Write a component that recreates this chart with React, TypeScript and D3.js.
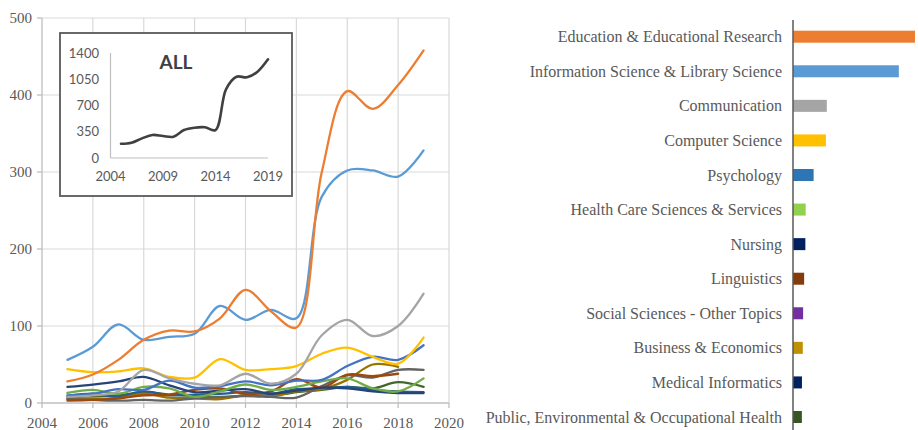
import * as d3 from "d3";
import { useEffect, useRef } from "react";

// years on the x axis of the main chart
const years = [2005, 2006, 2007, 2008, 2009, 2010, 2011, 2012, 2013, 2014, 2015, 2016, 2017, 2018, 2019];

// ALL (inset)
const allValues = [190, 204, 262, 307, 293, 284, 373, 404, 409, 373, 916, 1084, 1076, 1151, 1316];

const categories = [
  "Education & Educational Research",
  "Information Science & Library Science",
  "Communication",
  "Computer Science",
  "Psychology",
  "Health Care Sciences & Services",
  "Nursing",
  "Linguistics",
  "Social Sciences - Other Topics",
  "Business & Economics",
  "Medical Informatics",
  "Public, Environmental & Occupational Health",
];

const lineColors = [
  "#ED7D31", "#5B9BD5", "#A5A5A5", "#FFC000", "#4472C4", "#70AD47",
  "#264478", "#9E480E", "#636363", "#997300", "#255E91", "#43682B",
];
const barColors = [
  "#ED7D31", "#5B9BD5", "#A5A5A5", "#FFC000", "#2E75B6", "#92D050",
  "#002060", "#843C0C", "#7030A0", "#BF9000", "#002060", "#375623",
];

// per-category yearly counts, 2005..2019 (null = no value)
const education = [28, 37, 56, 82, 94, 93, 110, 147, 119, 98, 300, 405, 382, 413, 458];
const infoScience = [56, 73, 102, 82, 86, 90, 126, 108, 121, 110, 268, 302, 302, 294, 328];
const communication = [8, 10, 15, 43, 32, 25, 23, 38, 25, 38, 88, 108, 87, 100, 142];
const computerScience = [44, 40, 41, 45, 34, 33, 57, 43, 44, 48, 64, 72, 60, 51, 85];
const psychology = [10, 12, 18, 17, 29, 20, 22, 28, 23, 29, 30, 48, 60, 56, 75];
const healthCare = [13, 17, 12, 21, 19, 8, 15, 24, 17, 21, 28, 32, 19, 15, 32];
const nursing = [21, 24, 28, 34, 23, 14, 16, 18, 12, 16, 20, 19, 15, 13, 13];
const linguistics = [3, 4, 6, 10, 11, 17, 19, 12, 15, 31, 20, 37, 35, 38, null];
const socialSciences = [5, 4, 3, 4, 3, 6, 8, 9, 8, 7, 22, 36, 33, 43, 43];
const business = [5, 6, 6, 12, 7, 6, 5, 10, 9, 15, 18, 30, 50, 47, null];
const medicalInformatics = [9, 12, 8, 15, 10, 11, 12, 14, 12, 18, 19, 21, 17, 15, 14];
const publicHealth = [7, 9, 10, 14, 11, 9, 7, 10, 9, 14, 17, 21, 19, 27, 21];

const seriesValues = [
  education, infoScience, communication, computerScience, psychology, healthCare,
  nursing, linguistics, socialSciences, business, medicalInformatics, publicHealth,
];

// tick labels
const yTicks = [0, 100, 200, 300, 400, 500];
const xTicks = [2004, 2006, 2008, 2010, 2012, 2014, 2016, 2018, 2020];
const insetYTicks = [0, 350, 700, 1050, 1400];
const insetXTicks = [2004, 2009, 2014, 2019];

const SERIF = "'Liberation Serif', 'Times New Roman', serif";
const SANS = "Lato, 'Open Sans', sans-serif";

export default function App() {
  const svgRef = useRef<SVGSVGElement>(null);

  useEffect(() => {
    const svg = d3.select(svgRef.current);
    svg.selectAll("*").remove();
    svg.attr("width", 918).attr("height", 430);

    // ---------- main line chart ----------
    const x = d3.scaleLinear().domain([2004, 2020]).range([42, 449]);
    const y = d3.scaleLinear().domain([0, 500]).range([403, 18]);

    const grid = svg.append("g");
    grid.selectAll(".hg")
      .data(yTicks.filter((t) => t > 0))
      .enter()
      .append("line")
      .attr("x1", x(2004)).attr("x2", x(2020))
      .attr("y1", (d) => y(d)).attr("y2", (d) => y(d))
      .attr("stroke", "#d9d9d9").attr("stroke-width", 1.2);
    grid.selectAll(".vg")
      .data(xTicks.filter((t) => t > 2004))
      .enter()
      .append("line")
      .attr("x1", (d) => x(d)).attr("x2", (d) => x(d))
      .attr("y1", y(0)).attr("y2", y(500))
      .attr("stroke", "#d9d9d9").attr("stroke-width", 1.2);

    // axes
    const axisColor = "#bfbfbf";
    svg.append("line")
      .attr("x1", x(2004)).attr("x2", x(2004))
      .attr("y1", y(0)).attr("y2", y(500))
      .attr("stroke", axisColor).attr("stroke-width", 1.3);
    svg.append("line")
      .attr("x1", x(2004)).attr("x2", x(2020))
      .attr("y1", y(0)).attr("y2", y(0))
      .attr("stroke", axisColor).attr("stroke-width", 1.3);
    svg.selectAll(".yt")
      .data(yTicks)
      .enter()
      .append("line")
      .attr("x1", x(2004) - 5).attr("x2", x(2004))
      .attr("y1", (d) => y(d)).attr("y2", (d) => y(d))
      .attr("stroke", axisColor).attr("stroke-width", 1.3);
    svg.selectAll(".xt")
      .data(xTicks)
      .enter()
      .append("line")
      .attr("x1", (d) => x(d)).attr("x2", (d) => x(d))
      .attr("y1", y(0)).attr("y2", y(0) + 5)
      .attr("stroke", axisColor).attr("stroke-width", 1.3);

    svg.selectAll(".yl")
      .data(yTicks)
      .enter()
      .append("text")
      .attr("x", 32)
      .attr("y", (d) => y(d))
      .attr("dy", "0.35em")
      .attr("text-anchor", "end")
      .attr("font-family", SERIF)
      .attr("font-size", 15)
      .attr("fill", "#595959")
      .text((d) => d);
    svg.selectAll(".xl")
      .data(xTicks)
      .enter()
      .append("text")
      .attr("x", (d) => x(d))
      .attr("y", 428)
      .attr("text-anchor", "middle")
      .attr("font-family", SERIF)
      .attr("font-size", 15)
      .attr("fill", "#595959")
      .text((d) => d);

    // series lines (smoothed like Excel)
    const line = d3
      .line<number | null>()
      .defined((d) => d != null)
      .x((_, i) => x(years[i]))
      .y((d) => y(d as number))
      .curve(d3.curveCatmullRom.alpha(0.5));

    const order = d3.range(seriesValues.length).reverse();
    svg.append("g")
      .selectAll("path")
      .data(order)
      .enter()
      .append("path")
      .attr("d", (i) => line(seriesValues[i]))
      .attr("fill", "none")
      .attr("stroke", (i) => lineColors[i])
      .attr("stroke-width", 2.3)
      .attr("stroke-linecap", "round");

    // ---------- inset "ALL" ----------
    const inset = svg.append("g");
    inset.append("rect")
      .attr("x", 60).attr("y", 33)
      .attr("width", 232).attr("height", 163)
      .attr("fill", "#fff")
      .attr("stroke", "#595959")
      .attr("stroke-width", 1.8);

    const ix = d3.scaleLinear().domain([2004, 2019]).range([110.5, 268]);
    const iy = d3.scaleLinear().domain([0, 1400]).range([158, 53]);

    inset.append("line")
      .attr("x1", ix(2004)).attr("x2", ix(2004))
      .attr("y1", iy(0)).attr("y2", iy(1400))
      .attr("stroke", axisColor).attr("stroke-width", 1.2);
    inset.append("line")
      .attr("x1", ix(2004)).attr("x2", ix(2019))
      .attr("y1", iy(0)).attr("y2", iy(0))
      .attr("stroke", axisColor).attr("stroke-width", 1.2);

    inset.selectAll(".iyl")
      .data(insetYTicks)
      .enter()
      .append("text")
      .attr("x", 99)
      .attr("y", (d) => iy(d))
      .attr("dy", "0.35em")
      .attr("text-anchor", "end")
      .attr("font-family", SANS)
      .attr("font-size", 13)
      .attr("fill", "#595959")
      .text((d) => d);
    inset.selectAll(".ixl")
      .data(insetXTicks)
      .enter()
      .append("text")
      .attr("x", (d) => ix(d))
      .attr("y", 181)
      .attr("text-anchor", "middle")
      .attr("font-family", SANS)
      .attr("font-size", 13)
      .attr("fill", "#595959")
      .text((d) => d);

    inset.append("text")
      .attr("x", 176)
      .attr("y", 69)
      .attr("text-anchor", "middle")
      .attr("font-family", SANS)
      .attr("font-weight", "bold")
      .attr("font-size", 19)
      .attr("fill", "#404040")
      .text("ALL");

    const insetLine = d3
      .line<number>()
      .x((_, i) => ix(years[i]))
      .y((d) => iy(d))
      .curve(d3.curveCatmullRom.alpha(0.5));
    inset.append("path")
      .attr("d", insetLine(allValues))
      .attr("fill", "none")
      .attr("stroke", "#404040")
      .attr("stroke-width", 2.6)
      .attr("stroke-linecap", "round");

    // ---------- bar chart (totals) ----------
    const totals = seriesValues.map((s) => d3.sum(s, (v) => v ?? 0));
    const bx = d3.scaleLinear().domain([0, d3.max(totals) as number]).range([793, 915]);
    const by = d3.scalePoint<string>().domain(categories).range([36.7, 417]);
    const barH = 12;

    svg.append("g")
      .selectAll("rect")
      .data(categories)
      .enter()
      .append("rect")
      .attr("x", bx(0))
      .attr("y", (d) => (by(d) ?? 0) - barH / 2)
      .attr("width", (_, i) => bx(totals[i]) - bx(0))
      .attr("height", barH)
      .attr("fill", (_, i) => barColors[i]);

    svg.append("line")
      .attr("x1", 793).attr("x2", 793)
      .attr("y1", 20).attr("y2", 430)
      .attr("stroke", "#595959").attr("stroke-width", 1.5);

    svg.append("g")
      .selectAll("text")
      .data(categories)
      .enter()
      .append("text")
      .attr("x", 782)
      .attr("y", (d) => by(d) ?? 0)
      .attr("dy", "0.35em")
      .attr("text-anchor", "end")
      .attr("font-family", SERIF)
      .attr("font-size", 16)
      .attr("fill", "#595959")
      .text((d) => d);
  }, []);

  return (
    <svg
      ref={svgRef}
      style={{ position: "absolute", left: 0, top: 0, display: "block", background: "#fff" }}
    />
  );
}
